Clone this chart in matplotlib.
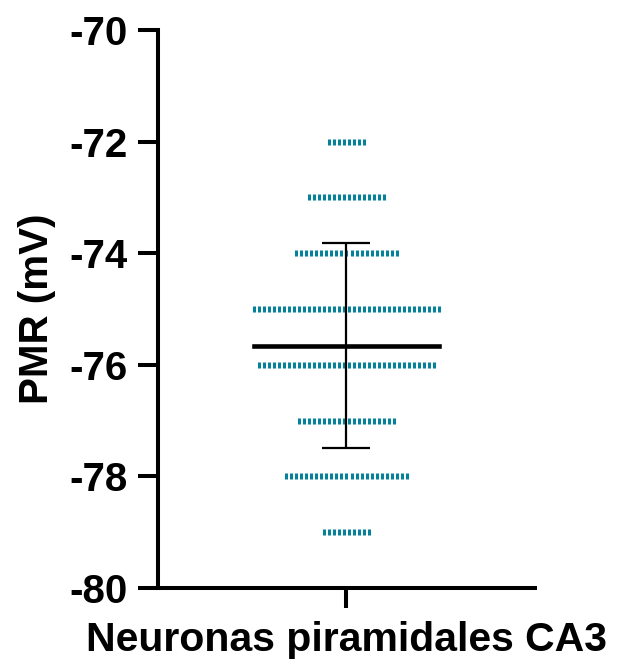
"""Dot plot of resting membrane potential in CA3 pyramidal neurons."""

import matplotlib
matplotlib.use("Agg")
import matplotlib.pyplot as plt
import numpy as np

# values (mV) and number of cells at each value
pmr_levels = [-72, -73, -74, -75, -76, -77, -78, -79]
cell_counts = [8, 16, 21, 38, 36, 20, 25, 10]
group_label = "Neuronas piramidales CA3"
y_ticks = [-80, -78, -76, -74, -72, -70]

plt.rcParams["font.family"] = ["Liberation Sans", "DejaVu Sans"]
plt.rcParams["font.weight"] = "bold"
plt.rcParams["axes.unicode_minus"] = False


def main():
    fig = plt.figure(figsize=(6.21, 6.61), dpi=100)
    ax = fig.add_axes([0.2544, 0.1104, 0.6071, 0.8442])

    values = np.repeat(pmr_levels, cell_counts).astype(float)
    mean = values.mean()
    sd = values.std(ddof=1)

    # spread the points of each row side by side around the centre
    spacing = 0.0266
    for level, n in zip(pmr_levels, cell_counts):
        xs = (np.arange(n) - (n - 1) / 2) * spacing
        ax.plot(xs, np.full(n, level), linestyle="none", marker="|",
                markersize=4.4, markeredgewidth=2.2, color="#07809a",
                zorder=2)

    ax.plot([-0.49, 0.49], [mean, mean], color="black", lw=3.3, zorder=3)
    ax.errorbar([0], [mean], yerr=[sd], fmt="none", ecolor="black",
                elinewidth=1.6, capsize=17.5, capthick=1.6, zorder=3)

    ax.set_xlim(-1, 1)
    ax.set_ylim(-80, -70)
    ax.set_yticks(y_ticks)
    ax.set_xticks([0])
    ax.set_xticklabels([""])
    ax.set_xlabel(group_label, fontsize=29.5, fontweight="bold", labelpad=2)
    ax.set_ylabel("PMR (mV)", fontsize=29, fontweight="bold", labelpad=10)

    for side in ("top", "right"):
        ax.spines[side].set_visible(False)
    for side in ("left", "bottom"):
        ax.spines[side].set_linewidth(2.9)
    ax.tick_params(axis="both", length=14.5, width=2.9, labelsize=29, pad=7)
    for lab in ax.get_yticklabels():
        lab.set_fontweight("bold")

    fig.savefig("out.png", dpi=100)


if __name__ == "__main__":
    main()
